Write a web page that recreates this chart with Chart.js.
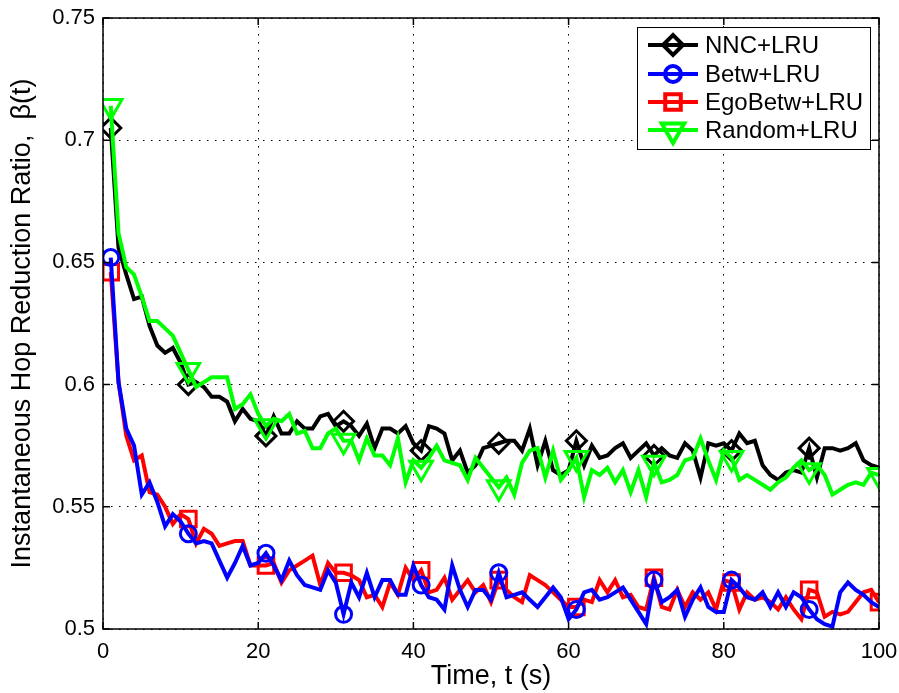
<!DOCTYPE html>
<html>
<head>
<meta charset="utf-8">
<script src="https://cdn.jsdelivr.net/npm/chart.js@4/dist/chart.umd.min.js"></script>
<style>
  html, body { margin: 0; padding: 0; background: #fff; }
  #wrap { width: 899px; height: 693px; position: relative; }
</style>
</head>
<body>
<div id="wrap"><canvas id="c" width="899" height="693"></canvas></div>
<script>
// ---- data ----
const times = [1,2,3,4,5,6,7,8,9,10,11,12,13,14,15,16,17,18,19,20,
  21,22,23,24,25,26,27,28,29,30,31,32,33,34,35,36,37,38,39,40,
  41,42,43,44,45,46,47,48,49,50,51,52,53,54,55,56,57,58,59,60,
  61,62,63,64,65,66,67,68,69,70,71,72,73,74,75,76,77,78,79,80,
  81,82,83,84,85,86,87,88,89,90,91,92,93,94,95,96,97,98,99,100];

const nncLRU = [0.705,0.656,0.645,0.635,0.636,0.624,0.616,0.613,0.615,0.609,
  0.600,0.601,0.599,0.595,0.595,0.593,0.585,0.590,0.586,0.585,
  0.579,0.587,0.580,0.580,0.585,0.582,0.582,0.587,0.588,0.583,
  0.585,0.583,0.579,0.584,0.574,0.582,0.582,0.580,0.583,0.576,
  0.573,0.583,0.582,0.580,0.569,0.573,0.564,0.567,0.574,0.575,
  0.576,0.577,0.577,0.573,0.582,0.567,0.577,0.565,0.563,0.565,
  0.577,0.567,0.575,0.570,0.571,0.574,0.576,0.570,0.573,0.576,
  0.571,0.574,0.571,0.570,0.576,0.573,0.562,0.576,0.575,0.576,
  0.573,0.580,0.576,0.577,0.567,0.563,0.561,0.564,0.565,0.564,
  0.574,0.562,0.574,0.574,0.573,0.574,0.576,0.569,0.567,0.566];

const betwLRU = [0.652,0.601,0.582,0.575,0.555,0.560,0.552,0.542,0.547,0.544,
  0.539,0.535,0.536,0.535,0.528,0.521,0.527,0.534,0.526,0.527,
  0.531,0.526,0.520,0.528,0.522,0.518,0.517,0.516,0.524,0.519,
  0.506,0.519,0.513,0.523,0.513,0.520,0.520,0.514,0.514,0.526,
  0.518,0.513,0.512,0.508,0.526,0.516,0.509,0.516,0.516,0.512,
  0.523,0.513,0.514,0.515,0.512,0.509,0.513,0.517,0.513,0.504,
  0.508,0.515,0.516,0.512,0.513,0.515,0.517,0.512,0.507,0.502,
  0.520,0.511,0.513,0.516,0.505,0.512,0.517,0.509,0.507,0.507,
  0.520,0.517,0.513,0.512,0.515,0.509,0.515,0.509,0.515,0.513,
  0.508,0.504,0.502,0.501,0.515,0.519,0.516,0.514,0.511,0.509];

const egoBetwLRU = [0.646,0.601,0.579,0.569,0.571,0.556,0.555,0.550,0.543,0.547,
  0.545,0.535,0.541,0.539,0.534,0.535,0.536,0.536,0.526,0.526,
  0.526,0.527,0.519,0.524,0.526,0.528,0.530,0.518,0.527,0.523,
  0.523,0.522,0.520,0.513,0.514,0.509,0.519,0.514,0.525,0.520,
  0.524,0.515,0.516,0.521,0.512,0.516,0.520,0.515,0.518,0.511,
  0.520,0.516,0.513,0.511,0.522,0.520,0.518,0.515,0.512,0.509,
  0.509,0.512,0.511,0.520,0.515,0.520,0.513,0.514,0.509,0.508,
  0.521,0.509,0.508,0.516,0.509,0.515,0.512,0.515,0.508,0.520,
  0.519,0.508,0.515,0.512,0.513,0.511,0.508,0.513,0.508,0.504,
  0.516,0.515,0.505,0.507,0.506,0.507,0.511,0.515,0.516,0.511];

const randomLRU = [0.714,0.662,0.648,0.645,0.636,0.626,0.626,0.623,0.620,0.613,
  0.606,0.599,0.601,0.603,0.603,0.603,0.590,0.592,0.596,0.588,
  0.583,0.586,0.585,0.588,0.580,0.581,0.574,0.574,0.580,0.582,
  0.577,0.577,0.569,0.578,0.571,0.571,0.567,0.578,0.560,0.569,
  0.566,0.570,0.575,0.569,0.568,0.567,0.561,0.570,0.566,0.562,
  0.558,0.562,0.555,0.568,0.573,0.574,0.562,0.573,0.561,0.565,
  0.570,0.554,0.565,0.563,0.566,0.560,0.565,0.556,0.565,0.554,
  0.568,0.560,0.561,0.563,0.569,0.570,0.578,0.569,0.561,0.573,
  0.570,0.561,0.563,0.561,0.559,0.557,0.560,0.562,0.566,0.569,
  0.565,0.567,0.563,0.555,0.557,0.559,0.560,0.559,0.564,0.563];

const seriesNames = ['NNC+LRU', 'Betw+LRU', 'EgoBetw+LRU', 'Random+LRU'];
const xTicks = [0, 20, 40, 60, 80, 100];
const yTicks = [0.5, 0.55, 0.6, 0.65, 0.7, 0.75];
// marker positions (data indices)
const markersShort = [0,10,20,30,40,50,60,70,80,90];
const markersLong = [0,10,20,30,40,50,60,70,80,90,99];

// ---- build ----
const toXY = vals => vals.map((v, i) => ({x: times[i], y: v}));
const mk = (label, vals, color, style, r, rot, marks, order) => ({
  label, data: toXY(vals), borderColor: color, backgroundColor: 'rgba(0,0,0,0)',
  borderWidth: 4, pointStyle: style, pointRotation: rot,
  pointBorderColor: color, pointBackgroundColor: 'rgba(0,0,0,0)',
  pointBorderWidth: 3, pointHoverRadius: 0, markerRadius: r,
  pointRadius: ctx => marks.includes(ctx.dataIndex) ? r : 0,
  tension: 0, fill: false, order
});

const datasets = [
  mk(seriesNames[0], nncLRU, '#000000', 'rectRot', 10, 0, markersShort, 4),
  mk(seriesNames[1], betwLRU, '#0000ff', 'circle', 8, 0, markersShort, 1),
  mk(seriesNames[2], egoBetwLRU, '#ff0000', 'rect', 11, 0, markersLong, 3),
  mk(seriesNames[3], randomLRU, '#00ff00', 'triangle', 13, 180, markersLong, 2)
];

const FONT = '"Liberation Sans", Arial, Helvetica, sans-serif';

function drawMarker(ctx, style, x, y, r, rot) {
  if (Chart.helpers && Chart.helpers.drawPoint) {
    Chart.helpers.drawPoint(ctx, {pointStyle: style, rotation: rot, radius: r, borderWidth: 3}, x, y);
  }
}

const framePlugin = {
  id: 'frame',
  afterDatasetsDraw(chart) {
    const {ctx, chartArea: a, scales} = chart;
    const xs = scales.x, ys = scales.y;
    ctx.save();
    ctx.strokeStyle = '#000';
    ctx.lineWidth = 1.5;
    ctx.setLineDash([]);
    ctx.strokeRect(a.left, a.top, a.right - a.left, a.bottom - a.top);
    const L = 7;
    ctx.beginPath();
    xTicks.forEach(v => {
      const px = xs.getPixelForValue(v);
      ctx.moveTo(px, a.bottom); ctx.lineTo(px, a.bottom - L);
      ctx.moveTo(px, a.top); ctx.lineTo(px, a.top + L);
    });
    yTicks.forEach(v => {
      const py = ys.getPixelForValue(v);
      ctx.moveTo(a.left, py); ctx.lineTo(a.left + L, py);
      ctx.moveTo(a.right, py); ctx.lineTo(a.right - L, py);
    });
    ctx.stroke();
    ctx.restore();
  }
};

const legendPlugin = {
  id: 'boxLegend',
  afterDraw(chart) {
    const ctx = chart.ctx;
    const bx = 637, by = 27, bw = 233, bh = 122;
    ctx.save();
    ctx.fillStyle = '#fff';
    ctx.fillRect(bx, by, bw, bh);
    ctx.strokeStyle = '#000';
    ctx.lineWidth = 1;
    ctx.strokeRect(bx + 0.5, by + 0.5, bw, bh);
    const rows = [45, 74, 102, 130];
    chart.data.datasets.forEach((ds, i) => {
      const y = rows[i];
      ctx.strokeStyle = ds.borderColor;
      ctx.lineWidth = 4;
      ctx.beginPath(); ctx.moveTo(648, y); ctx.lineTo(698, y); ctx.stroke();
      ctx.strokeStyle = ds.pointBorderColor;
      ctx.fillStyle = 'rgba(0,0,0,0)';
      drawMarker(ctx, ds.pointStyle, 673, y, ds.markerRadius, ds.pointRotation);
      ctx.fillStyle = '#000';
      ctx.font = '24px ' + FONT;
      ctx.textBaseline = 'middle';
      ctx.textAlign = 'left';
      ctx.fillText(ds.label, 705, y + 1);
    });
    ctx.restore();
  }
};

new Chart(document.getElementById('c'), {
  type: 'line',
  data: { datasets },
  plugins: [framePlugin, legendPlugin],
  options: {
    responsive: false,
    animation: false,
    events: [],
    layout: { padding: { top: 18, right: 20, left: 0, bottom: 0 } },
    plugins: { legend: { display: false }, tooltip: { enabled: false } },
    scales: {
      x: {
        type: 'linear', min: 0, max: 100,
        afterFit: s => { s.height = 64; s.paddingLeft = 0; s.paddingRight = 0; },
        afterBuildTicks: s => { s.ticks = xTicks.map(v => ({value: v})); },
        ticks: { color: '#000', font: { family: FONT, size: 22 }, padding: 10, maxRotation: 0,
                 callback: v => String(v) },
        grid: { color: '#000', lineWidth: 1, drawTicks: false },
        border: { display: false, dash: [1.5, 6.5] },
        title: { display: true, text: 'Time, t (s)', color: '#000',
                 font: { family: FONT, size: 27 }, padding: { top: 0, bottom: 0 } }
      },
      y: {
        type: 'linear', min: 0.5, max: 0.75,
        afterFit: s => { s.width = 103; s.paddingTop = 0; s.paddingBottom = 0; },
        afterBuildTicks: s => { s.ticks = yTicks.map(v => ({value: v})); },
        ticks: { color: '#000', font: { family: FONT, size: 22 }, padding: 8,
                 callback: v => String(+v.toFixed(2)) },
        grid: { color: '#000', lineWidth: 1, drawTicks: false },
        border: { display: false, dash: [1.5, 6.5] },
        title: { display: true, text: 'Instantaneous Hop Reduction Ratio,  \u03b2(t)', color: '#000',
                 font: { family: FONT, size: 27 }, padding: { top: 6, bottom: 0 } }
      }
    }
  }
});
</script>
</body>
</html>
